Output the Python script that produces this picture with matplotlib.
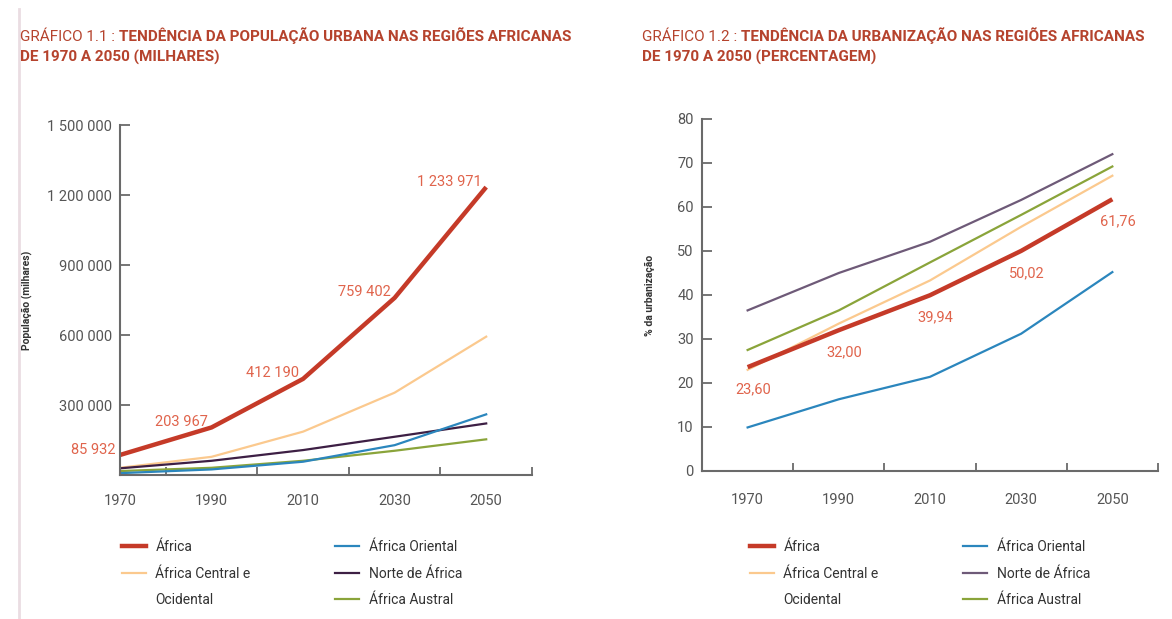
import matplotlib
matplotlib.use("Agg")
import matplotlib.pyplot as plt
from matplotlib.lines import Line2D

plt.rcParams['font.family'] = ['Roboto', 'DejaVu Sans']

# data
years = ["1970", "1990", "2010", "2030", "2050"]

# urban population (thousands)
pop_africa = [85932, 203967, 412190, 759402, 1233971]
pop_central = [31000, 78000, 186000, 353000, 593000]
pop_oriental = [8000, 24000, 57000, 128000, 260000]
pop_norte = [28700, 61000, 107000, 164000, 221000]
pop_austral = [17000, 31000, 61000, 104000, 153000]
pop_labels = ["85 932", "203 967", "412 190", "759 402", "1 233 971"]

# urbanisation (%)
urb_africa = [23.60, 32.00, 39.94, 50.02, 61.76]
urb_central = [23.0, 33.5, 43.3, 55.5, 67.1]
urb_oriental = [9.9, 16.3, 21.4, 31.2, 45.2]
urb_norte = [36.5, 45.0, 52.1, 61.6, 72.0]
urb_austral = [27.5, 36.5, 47.4, 58.2, 69.2]
urb_labels = ["23,60", "32,00", "39,94", "50,02", "61,76"]

pop_ticks = [300000, 600000, 900000, 1200000, 1500000]
pop_ticklabels = ["300 000", "600 000", "900 000", "1 200 000", "1 500 000"]
urb_ticks = [0, 10, 20, 30, 40, 50, 60, 70, 80]

legend_labels = ["África", "África Central e", "Ocidental",
                 "África Oriental", "Norte de África", "África Austral"]

red = "#c53a28"
orange = "#fbc98e"
blue = "#2b86bd"
purple_l = "#3d1f44"
purple_r = "#6e5a78"
green = "#8aa43a"
ann_col = "#e0644c"
title_col = "#b5432d"
grey = "#6a6a6a"
txt = "#555555"

fig = plt.figure(figsize=(11.72, 6.19), dpi=100)
fig.patch.set_facecolor("white")

ax1 = fig.add_axes([0.1024, 0.2326, 0.3515, 0.5654])
ax2 = fig.add_axes([0.599, 0.2391, 0.389, 0.5687])

x = list(range(len(years)))


def style_axis(ax, xmin, xpad):
    for s in ["top", "right"]:
        ax.spines[s].set_visible(False)
    for s in ["left", "bottom"]:
        ax.spines[s].set_color(grey)
        ax.spines[s].set_linewidth(1.5)
    ax.set_xlim(xmin, 4.5)
    ax.set_xticks(x)
    ax.set_xticklabels(years)
    ax.set_xticks([0.5, 1.5, 2.5, 3.5, 4.5], minor=True)
    ax.tick_params(axis="x", which="major", length=0, pad=xpad, labelsize=10.5, labelcolor=txt)
    ax.tick_params(axis="x", which="minor", direction="in", length=6, width=1.3, color=grey)
    ax.tick_params(axis="y", direction="in", length=7, width=1.3, color=grey,
                   labelsize=10.5, labelcolor=txt, pad=6)


# chart 1
ax1.plot(x, pop_central, color=orange, lw=1.6)
ax1.plot(x, pop_norte, color=purple_l, lw=1.6)
ax1.plot(x, pop_austral, color=green, lw=1.6)
ax1.plot(x, pop_oriental, color=blue, lw=1.6)
ax1.plot(x, pop_africa, color=red, lw=3.2, solid_capstyle="butt")
style_axis(ax1, 0, 14)
ax1.set_ylim(0, 1500000)
ax1.set_yticks(pop_ticks)
ax1.set_yticklabels(pop_ticklabels)
ax1.set_ylabel("População (milhares)", fontsize=7.5, fontweight="bold", color="#333333")
ax1.yaxis.set_label_coords(-0.211, 0.5)
for i, lab in enumerate(pop_labels):
    ax1.annotate(lab, (x[i], pop_africa[i]), xytext=(-3, 1), textcoords="offset points",
                 ha="right", va="baseline", fontsize=10.5, color=ann_col, annotation_clip=False)

# chart 2
ax2.plot(x, urb_oriental, color=blue, lw=1.6)
ax2.plot(x, urb_norte, color=purple_r, lw=1.6)
ax2.plot(x, urb_austral, color=green, lw=1.6)
ax2.plot(x, urb_central, color=orange, lw=1.6)
ax2.plot(x, urb_africa, color=red, lw=3.2, solid_capstyle="butt")
style_axis(ax2, -0.5, 16)
ax2.set_ylim(0, 80)
ax2.set_yticks(urb_ticks)
ax2.set_ylabel("% da urbanização", fontsize=7.5, fontweight="bold", color="#333333")
ax2.yaxis.set_label_coords(-0.103, 0.5)
for i, lab in enumerate(urb_labels):
    ax2.annotate(lab, (x[i], urb_africa[i]), xytext=(4, -16), textcoords="offset points",
                 ha="center", va="center", fontsize=10.5, color=ann_col)


# titles: light "GRÁFICO n :" followed by bold text
def title(xf, num, rest, line2):
    t1 = fig.text(xf, 1 - 37 / 619, num, fontsize=11, color=title_col, va="center")
    ax1.annotate(rest, xy=(1, 0), xycoords=t1, va="bottom", ha="left",
                 fontsize=11, color=title_col, fontweight="bold", annotation_clip=False)
    fig.text(xf, 1 - 57 / 619, line2, fontsize=11, color=title_col, fontweight="bold", va="center")


title(20 / 1172, "GRÁFICO 1.1 : ", "TENDÊNCIA DA POPULAÇÃO URBANA NAS REGIÕES AFRICANAS",
      "DE 1970 A 2050 (MILHARES)")
title(642 / 1172, "GRÁFICO 1.2 : ", "TENDÊNCIA DA URBANIZAÇÃO NAS REGIÕES AFRICANAS",
      "DE 1970 A 2050 (PERCENTAGEM)")


# legends (blank handle for the wrapped label line)
def legend(ax, xf, norte_col):
    handles = [
        Line2D([], [], color=red, lw=3.2),
        Line2D([], [], color=orange, lw=1.6),
        Line2D([], [], color="none", lw=0),
        Line2D([], [], color=blue, lw=1.6),
        Line2D([], [], color=norte_col, lw=1.6),
        Line2D([], [], color=green, lw=1.6),
    ]
    leg = ax.legend(handles, legend_labels, ncol=2, loc="upper left",
                    bbox_to_anchor=(xf, 1 - 540 / 619), bbox_transform=fig.transFigure,
                    frameon=False, fontsize=10, handlelength=1.7, handletextpad=0.7,
                    labelspacing=0.9, columnspacing=6.1, borderaxespad=0, borderpad=0)
    for t in leg.get_texts():
        t.set_color("#333333")


legend(ax1, 122 / 1172, purple_l)
legend(ax2, 750 / 1172, purple_r)

# thin page border on the left
fig.add_artist(Line2D([19 / 1172, 19 / 1172], [0, 0.985], color="#eadde2", lw=2))

fig.savefig("out.png", dpi=100)
